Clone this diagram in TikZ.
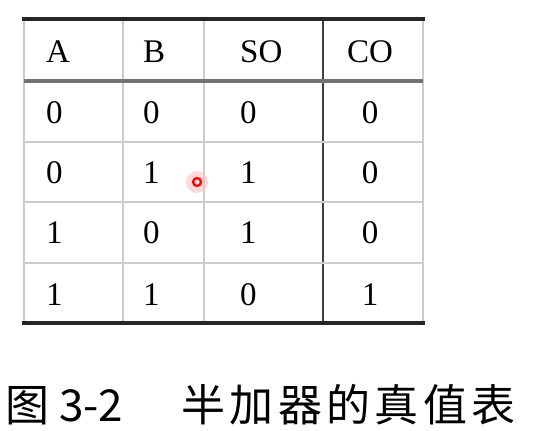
\documentclass[tikz,border=0pt]{standalone}
\usepackage{fontspec}
\setmainfont{Liberation Serif}
\newfontfamily\cjk{Noto Sans CJK SC}
\newfontfamily\cjkwide[LetterSpace=10]{Noto Sans CJK SC}
\begin{document}
\begin{tikzpicture}[x=1pt,y=-1pt,font=\fontsize{33}{36}\selectfont,
                    inner sep=0pt]
  \tikzstyle{heavy rule}=[line width=4.5pt,draw=black!85]
  \tikzstyle{head rule}=[line width=3.5pt,draw=black!55]
  \tikzstyle{light rule}=[line width=2.2pt,draw=black!20]
  \tikzstyle{dark rule}=[line width=2pt,draw=black!75]
  \tikzstyle{cell}=[anchor=base west]
  \tikzstyle{caption}=[anchor=base west,font=\fontsize{44}{48}\selectfont]

  \useasboundingbox (0,0) rectangle (544,431);

  % vertical rules
  \draw[light rule] (24,19) -- (24,323);
  \draw[light rule] (123,19) -- (123,323);
  \draw[light rule] (204,19) -- (204,323);
  \draw[dark rule]  (323,19) -- (323,323);
  \draw[light rule] (423,19) -- (423,323);

  % horizontal rules
  \draw[light rule] (24,142) -- (423,142);
  \draw[light rule] (24,202) -- (423,202);
  \draw[light rule] (24,263) -- (423,263);
  \draw[head rule]  (24,81) -- (423,81);
  \draw[heavy rule] (22,19) -- (425,19);
  \draw[heavy rule] (22,323) -- (425,323);

  % cells
  \foreach \a/\b/\s/\c/\y [count=\r] in
      {A/B/SO/CO/62, 0/0/0/0/123, 0/1/1/0/183, 1/0/1/0/243, 1/1/0/1/305}
  {
    \node[cell] (a\r) at (46,\y)  {\a};
    \node[cell] (b\r) at (143,\y) {\b};
    \node[cell] (s\r) at (240,\y) {\s};
    \node[cell,anchor=base] (c\r) at (370,\y) {\c};
  }

  % pointer mark
  \fill[red!25,opacity=0.6] (197,182) circle (11);
  \draw[red,line width=2.2pt,fill=red!15] (197,182) circle (4);

  % caption
  \node[caption] (fignum) at (5,421) {\cjk 图 3-2};
  \node[caption] (title) at (181,421) {\cjkwide 半加器的真值表};
\end{tikzpicture}
\end{document}
